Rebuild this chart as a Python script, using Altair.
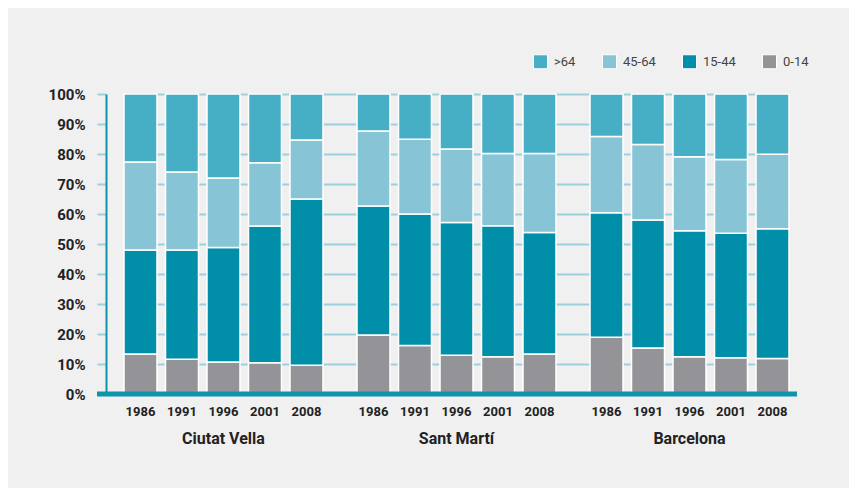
import altair as alt
import pandas as pd

districts = ["Ciutat Vella", "Sant Martí", "Barcelona"]
years = ["1986", "1991", "1996", "2001", "2008"]
age_groups = [">64", "45-64", "15-44", "0-14"]
colors = ["#47afc5", "#87c4d6", "#008ea9", "#949498"]
y_ticks = [0, 10, 20, 30, 40, 50, 60, 70, 80, 90, 100]

# percentages per bar (district x year order)
v_0_14 = [13.3, 11.6, 10.7, 10.4, 9.6,
          19.7, 16.2, 12.9, 12.4, 13.3,
          18.9, 15.3, 12.4, 12.1, 11.8]
v_15_44 = [34.7, 36.4, 38.1, 45.6, 55.4,
           43.0, 43.8, 44.3, 43.7, 40.5,
           41.5, 42.7, 42.0, 41.5, 43.3]
v_45_64 = [29.3, 26.0, 23.2, 21.1, 19.7,
           25.0, 24.9, 24.5, 24.1, 26.4,
           25.4, 25.2, 24.7, 24.6, 24.8]
v_64 = [22.7, 26.0, 28.0, 22.9, 15.3,
        12.3, 15.1, 18.3, 19.8, 19.8,
        14.2, 16.8, 20.9, 21.8, 20.1]

series = {"0-14": v_0_14, "15-44": v_15_44, "45-64": v_45_64, ">64": v_64}
stack_rank = {"0-14": 0, "15-44": 1, "45-64": 2, ">64": 3}

rows = []
for g, vals in series.items():
    i = 0
    for d in districts:
        for y in years:
            rows.append({"district": d, "year": y, "age": g,
                         "value": vals[i], "rank": stack_rank[g]})
            i += 1
df = pd.DataFrame(rows)
labels_df = pd.DataFrame([{"district": d, "year": y} for d in districts for y in years])

FONT = "Roboto, Liberation Sans, sans-serif"
W, H = 685, 300

x_enc = alt.X("district:N", sort=districts,
              scale=alt.Scale(range=[18, 683], paddingInner=0.146, paddingOuter=0),
              axis=alt.Axis(title=None, domain=False, ticks=False, labelFont=FONT,
                            labelFontSize=16, labelFontWeight="bold", labelColor="#222",
                            labelPadding=36, labelAngle=0))
xo_enc = alt.XOffset("year:N", sort=years,
                     scale=alt.Scale(paddingInner=0.205, paddingOuter=0))

bars = alt.Chart(df).mark_bar(stroke="white", strokeWidth=1.5).encode(
    x=x_enc,
    xOffset=xo_enc,
    y=alt.Y("value:Q", stack="zero",
            scale=alt.Scale(domain=[0, 100], nice=False),
            axis=alt.Axis(title=None, values=y_ticks, tickCount=11, labelOverlap=False,
                          labelExpr="datum.value + '%'", labelFont=FONT, labelFontSize=15,
                          labelFontWeight="bold", labelColor="#222", labelPadding=12,
                          tickSize=9, tickColor="#9dd0de", tickWidth=2,
                          grid=True, gridColor="#9dd0de", gridWidth=2,
                          domainColor="#0e93ad", domainWidth=2)),
    color=alt.Color("age:N", sort=age_groups,
                    scale=alt.Scale(domain=age_groups, range=colors),
                    legend=alt.Legend(title=None, orient="none", legendX=427, legendY=-40,
                                      direction="horizontal", symbolType="square",
                                      symbolSize=196, symbolStrokeColor="white",
                                      symbolStrokeWidth=1, symbolOpacity=1,
                                      labelFont=FONT, labelFontSize=13, labelColor="#444",
                                      labelOffset=6, columnPadding=24)),
    order=alt.Order("rank:Q", sort="ascending"),
)

baseline = alt.Chart(pd.DataFrame({"v": [0]})).mark_rule(
    color="#0e93ad", strokeWidth=5
).encode(y=alt.Y("v:Q"), x=alt.value(-9), x2=alt.value(W + 6))

year_text = alt.Chart(labels_df).mark_text(
    font=FONT, fontSize=13, fontWeight="bold", color="#222", baseline="middle"
).encode(
    x=alt.X("district:N", sort=districts),
    xOffset=alt.XOffset("year:N", sort=years),
    y=alt.value(H + 18),
    text="year:N",
)

chart = alt.layer(bars, baseline, year_text).properties(
    width=W, height=H,
    background="#f0f0f0",
    padding={"left": 98, "top": 86, "right": 58, "bottom": 94},
    autosize=alt.AutoSizeParams(type="none"),
).configure_view(stroke=None)

chart.save("out.html", embed_options={"renderer": "svg", "actions": False})
